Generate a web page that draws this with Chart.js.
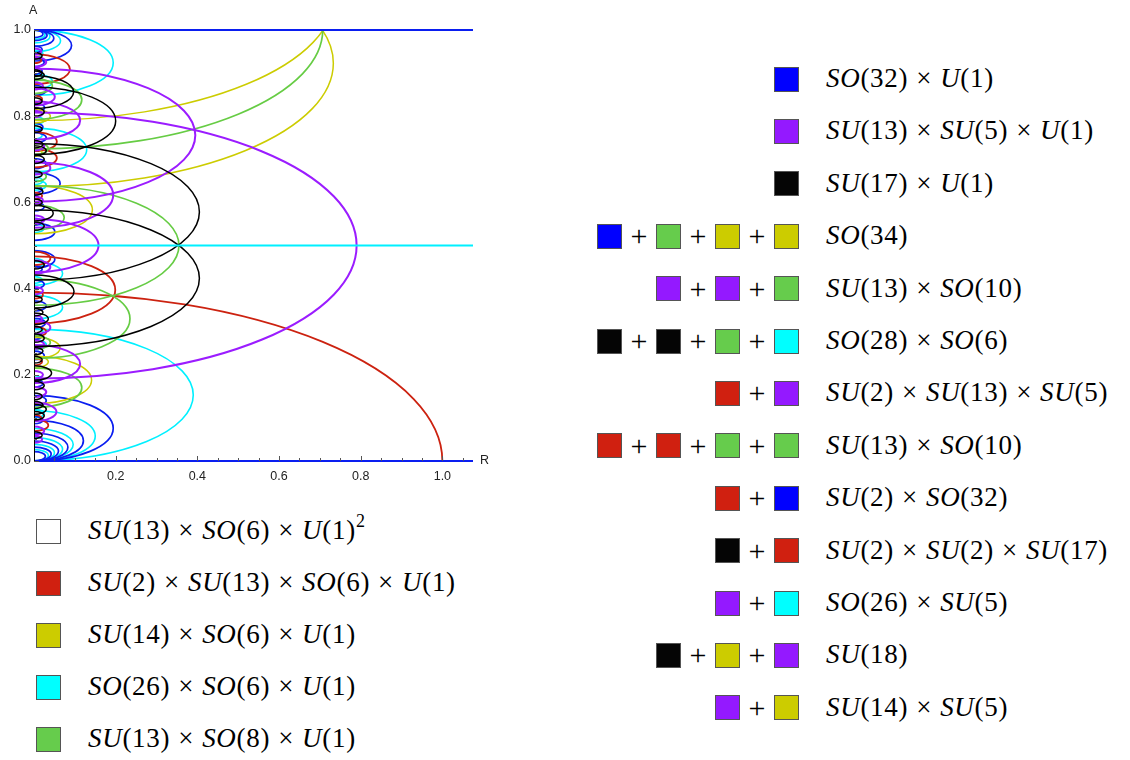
<!DOCTYPE html>
<html>
<head>
<meta charset="utf-8">
<script src="https://cdn.jsdelivr.net/npm/chart.js@4.4.0/dist/chart.umd.min.js"></script>
<style>
  body { margin: 0; background: #fff; width: 1130px; height: 760px; position: relative; overflow: hidden; }
  #plot { position: absolute; left: 0; top: 0; width: 500px; height: 490px; }
  .row { position: absolute; height: 26px; display: flex; align-items: center; }
  .sw { width: 25px; height: 25px; border: 1px solid #555; box-sizing: border-box; }
  .plus { font-family: "Liberation Serif", serif; font-size: 30px; width: 34px; text-align: center; line-height: 26px; }
  .txt { position: absolute; font-family: "Liberation Serif", serif; font-size: 27px; white-space: nowrap; line-height: 28px; letter-spacing: 0.7px; }
  .txt i { font-style: italic; }
  .txt .x { margin: 0 8px; }
  .txt sup { font-size: 18px; vertical-align: 12px; line-height: 0; }
</style>
</head>
<body>
<div id="plot"><canvas id="grafico" width="500" height="490"></canvas></div>
<div id="legendas"></div>
<script>
// axes
const xTicks = [0.2, 0.4, 0.6, 0.8, 1.0];
const yTicks = [0.0, 0.2, 0.4, 0.6, 0.8, 1.0];
const minorStep = 0.05;
const xMax = 1.075;

// every curve is an ellipse centred on the A axis: [centre A, reach in R]
// the vertical half-height is reach / aspect
const aspect = 2.56;

const cores = {
  azul: '#0a1ef0',
  roxo: '#9b1cff',
  preto: '#000000',
  vermelho: '#cc2210',
  amarelo: '#cccc00',
  verde: '#66cc44',
  ciano: '#00f0ff'
};

// horizontal lines (A values)
const linhasAzuis = [0.0, 1.0];
const linhasCiano = [0.5];

const arcosCiano = [[0.153, 0.39], [0.924, 0.194], [0.058, 0.15], [0.722, 0.129], [0.435, 0.07], [0.357, 0.07],
  [0.975, 0.065], [0.985, 0.039], [0.989, 0.027], [0.038, 0.096], [0.027, 0.07], [0.019, 0.05], [0.013, 0.035],
  [0.88, 0.045], [0.64, 0.03], [0.27, 0.03], [0.945, 0.022], [0.89, 0.02], [0.79, 0.024], [0.755, 0.02],
  [0.65, 0.022], [0.54, 0.025], [0.46, 0.025], [0.42, 0.02], [0.3, 0.022], [0.19, 0.02], [0.11, 0.025]];
const arcosAzuis = [[0.964, 0.092], [0.076, 0.194], [0.047, 0.121], [0.032, 0.083], [0.981, 0.0485], [0.644, 0.064],
  [0.532, 0.051], [0.468, 0.051], [0.988, 0.032], [0.991, 0.022], [0.023, 0.06], [0.016, 0.042], [0.011, 0.028],
  [0.36, 0.03], [0.75, 0.03], [0.955, 0.02], [0.925, 0.025], [0.905, 0.02], [0.86, 0.03], [0.82, 0.026],
  [0.775, 0.022], [0.69, 0.03], [0.63, 0.02], [0.59, 0.025], [0.555, 0.02], [0.445, 0.02], [0.41, 0.025],
  [0.32, 0.028], [0.29, 0.02], [0.245, 0.025], [0.18, 0.022], [0.14, 0.03], [0.095, 0.022]];
const arcosRoxos = [[0.5, 0.79], [0.756, 0.395], [0.617, 0.194], [0.5, 0.158], [0.79, 0.113], [0.225, 0.113],
  [0.845, 0.051], [0.114, 0.055], [0.926, 0.03], [0.45, 0.04], [0.31, 0.04], [0.68, 0.04], [0.95, 0.018],
  [0.87, 0.022], [0.805, 0.02], [0.73, 0.025], [0.605, 0.022], [0.56, 0.025], [0.395, 0.022], [0.33, 0.02],
  [0.27, 0.025], [0.2, 0.022], [0.16, 0.03], [0.07, 0.025], [0.05, 0.02]];
const arcosPretos = [[0.578, 0.405], [0.424, 0.405], [0.789, 0.2], [0.393, 0.098], [0.856, 0.097], [0.575, 0.047],
  [0.204, 0.043], [0.33, 0.035], [0.72, 0.03], [0.12, 0.03], [0.9, 0.02], [0.94, 0.02], [0.895, 0.025],
  [0.835, 0.02], [0.81, 0.025], [0.77, 0.02], [0.735, 0.022], [0.7, 0.025], [0.665, 0.02], [0.625, 0.022],
  [0.6, 0.02], [0.545, 0.025], [0.455, 0.025], [0.375, 0.02], [0.345, 0.022], [0.305, 0.02], [0.285, 0.025],
  [0.255, 0.022], [0.235, 0.02], [0.175, 0.025], [0.15, 0.02], [0.13, 0.022], [0.105, 0.025], [0.06, 0.02]];
const arcosVermelhos = [[0.0, 1.0], [0.397, 0.199], [0.909, 0.088], [0.741, 0.056], [0.703, 0.056], [0.083, 0.035],
  [0.47, 0.04], [0.3, 0.03], [0.93, 0.018], [0.84, 0.02], [0.615, 0.02], [0.385, 0.022], [0.23, 0.02], [0.1, 0.018]];
const arcosAmarelos = [[1.077, 0.735], [0.923, 0.733], [0.583, 0.143], [0.188, 0.141], [0.262, 0.064], [0.8, 0.04],
  [0.715, 0.02], [0.23, 0.035]];
const arcosVerdes = [[1.0, 0.707], [0.5, 0.355], [0.33, 0.235], [0.838, 0.117], [0.17, 0.117], [0.565, 0.074],
  [0.87, 0.045], [0.725, 0.035], [0.275, 0.04], [0.66, 0.03]];

// [arcs, colour, line width]
const gruposArcos = [
  [arcosCiano, cores.ciano, 1.6],
  [arcosAzuis, cores.azul, 1.7],
  [arcosVermelhos, cores.vermelho, 1.8],
  [arcosAmarelos, cores.amarelo, 1.5],
  [arcosVerdes, cores.verde, 1.7],
  [arcosRoxos, cores.roxo, 2],
  [arcosPretos, cores.preto, 1.5]
];

// legend
const vezes = '<span class="x">×</span>';
const legendaEsquerda = [
  { cores: ['#ffffff'], texto: `<i>SU</i>(13)${vezes}<i>SO</i>(6)${vezes}<i>U</i>(1)<sup>2</sup>` },
  { cores: ['#d02010'], texto: `<i>SU</i>(2)${vezes}<i>SU</i>(13)${vezes}<i>SO</i>(6)${vezes}<i>U</i>(1)` },
  { cores: ['#cccc00'], texto: `<i>SU</i>(14)${vezes}<i>SO</i>(6)${vezes}<i>U</i>(1)` },
  { cores: ['#00ffff'], texto: `<i>SO</i>(26)${vezes}<i>SO</i>(6)${vezes}<i>U</i>(1)` },
  { cores: ['#66cc4c'], texto: `<i>SU</i>(13)${vezes}<i>SO</i>(8)${vezes}<i>U</i>(1)` }
];
const legendaDireita = [
  { cores: ['#0000ff'], texto: `<i>SO</i>(32)${vezes}<i>U</i>(1)` },
  { cores: ['#9419ff'], texto: `<i>SU</i>(13)${vezes}<i>SU</i>(5)${vezes}<i>U</i>(1)` },
  { cores: ['#050505'], texto: `<i>SU</i>(17)${vezes}<i>U</i>(1)` },
  { cores: ['#0000ff', '#66cc4c', '#cccc00', '#cccc00'], texto: '<i>SO</i>(34)' },
  { cores: ['#9419ff', '#9419ff', '#66cc4c'], texto: `<i>SU</i>(13)${vezes}<i>SO</i>(10)` },
  { cores: ['#050505', '#050505', '#66cc4c', '#00ffff'], texto: `<i>SO</i>(28)${vezes}<i>SO</i>(6)` },
  { cores: ['#d02010', '#9419ff'], texto: `<i>SU</i>(2)${vezes}<i>SU</i>(13)${vezes}<i>SU</i>(5)` },
  { cores: ['#d02010', '#d02010', '#66cc4c', '#66cc4c'], texto: `<i>SU</i>(13)${vezes}<i>SO</i>(10)` },
  { cores: ['#d02010', '#0000ff'], texto: `<i>SU</i>(2)${vezes}<i>SO</i>(32)` },
  { cores: ['#050505', '#d02010'], texto: `<i>SU</i>(2)${vezes}<i>SU</i>(2)${vezes}<i>SU</i>(17)` },
  { cores: ['#9419ff', '#00ffff'], texto: `<i>SO</i>(26)${vezes}<i>SU</i>(5)` },
  { cores: ['#050505', '#cccc00', '#9419ff'], texto: '<i>SU</i>(18)' },
  { cores: ['#9419ff', '#cccc00'], texto: `<i>SU</i>(14)${vezes}<i>SU</i>(5)` }
];

function montarLegenda(itens, xDireita, xTexto, yInicio, passo) {
  const caixa = document.getElementById('legendas');
  itens.forEach((item, i) => {
    const y = yInicio + i * passo;
    const linha = document.createElement('div');
    linha.className = 'row';
    linha.style.top = (y - 13) + 'px';
    item.cores.forEach((c, j) => {
      if (j > 0) {
        const p = document.createElement('span');
        p.className = 'plus';
        p.textContent = '+';
        linha.appendChild(p);
      }
      const q = document.createElement('div');
      q.className = 'sw';
      q.style.background = c;
      linha.appendChild(q);
    });
    caixa.appendChild(linha);
    linha.style.left = (xDireita - linha.offsetWidth) + 'px';
    const t = document.createElement('div');
    t.className = 'txt';
    t.style.left = xTexto + 'px';
    t.style.top = (y - 15) + 'px';
    t.innerHTML = item.texto;
    caixa.appendChild(t);
  });
}
montarLegenda(legendaEsquerda, 61, 88, 531, 52);
montarLegenda(legendaDireita, 799, 826, 79, 52.4);

const arcosPlugin = {
  id: 'arcos',
  beforeDatasetsDraw(chart) {
    const { ctx, chartArea: a, scales: { x, y } } = chart;
    ctx.save();
    ctx.beginPath();
    ctx.rect(a.left, a.top, a.right - a.left, a.bottom - a.top);
    ctx.clip();
    const cx = x.getPixelForValue(0);
    gruposArcos.forEach(([lista, cor, espessura]) => {
      ctx.strokeStyle = cor;
      ctx.lineWidth = espessura;
      lista.forEach(([c, r]) => {
        const cy = y.getPixelForValue(c);
        const rx = x.getPixelForValue(r) - cx;
        const ry = y.getPixelForValue(c - r / aspect) - cy;
        ctx.beginPath();
        ctx.ellipse(cx, cy, rx, ry, 0, -Math.PI / 2, Math.PI / 2);
        ctx.stroke();
      });
    });
    ctx.restore();
  },
  afterDraw(chart) {
    const { ctx, chartArea: a, scales: { x, y } } = chart;
    ctx.save();
    ctx.strokeStyle = '#000';
    ctx.lineWidth = 1;
    ctx.beginPath();
    ctx.moveTo(a.left + 0.5, a.top);
    ctx.lineTo(a.left + 0.5, a.bottom);
    ctx.stroke();
    ctx.strokeStyle = '#555';
    for (let v = minorStep; v < xMax; v += minorStep) {
      const px = Math.round(x.getPixelForValue(v)) + 0.5;
      const major = xTicks.some(t => Math.abs(t - v) < 1e-6);
      ctx.beginPath();
      ctx.moveTo(px, a.bottom);
      ctx.lineTo(px, a.bottom - (major ? 5 : 3));
      ctx.stroke();
    }
    for (let v = 0; v <= 1.0001; v += minorStep) {
      const py = Math.round(y.getPixelForValue(v)) + 0.5;
      const major = yTicks.some(t => Math.abs(t - v) < 1e-6);
      ctx.beginPath();
      ctx.moveTo(a.left, py);
      ctx.lineTo(a.left + (major ? 5 : 3), py);
      ctx.stroke();
    }
    ctx.fillStyle = '#222';
    ctx.font = '12.5px "Liberation Sans", Arial, sans-serif';
    ctx.textAlign = 'center';
    ctx.textBaseline = 'top';
    xTicks.forEach(t => ctx.fillText(t.toFixed(1), x.getPixelForValue(t), a.bottom + 9));
    ctx.textAlign = 'right';
    ctx.textBaseline = 'middle';
    yTicks.forEach(t => ctx.fillText(t.toFixed(1), a.left - 3, y.getPixelForValue(t)));
    ctx.textAlign = 'left';
    ctx.fillText('A', a.left - 5, a.top - 19);
    ctx.fillText('R', a.right + 7, a.bottom);
    ctx.restore();
  }
};

function linha(v, cor) {
  return {
    data: [{ x: 0, y: v }, { x: xMax, y: v }],
    borderColor: cor,
    borderWidth: 2,
    showLine: true,
    pointRadius: 0,
    clip: false
  };
}

new Chart(document.getElementById('grafico').getContext('2d'), {
  type: 'scatter',
  data: {
    datasets: [
      ...linhasCiano.map(v => linha(v, cores.ciano)),
      ...linhasAzuis.map(v => linha(v, cores.azul))
    ]
  },
  options: {
    responsive: false,
    animation: false,
    layout: { padding: { left: 34, top: 30, right: 27, bottom: 29 } },
    plugins: { legend: { display: false }, tooltip: { enabled: false } },
    scales: {
      x: { type: 'linear', min: 0, max: xMax, display: false },
      y: { type: 'linear', min: 0, max: 1, display: false }
    }
  },
  plugins: [arcosPlugin]
});
</script>
</body>
</html>
